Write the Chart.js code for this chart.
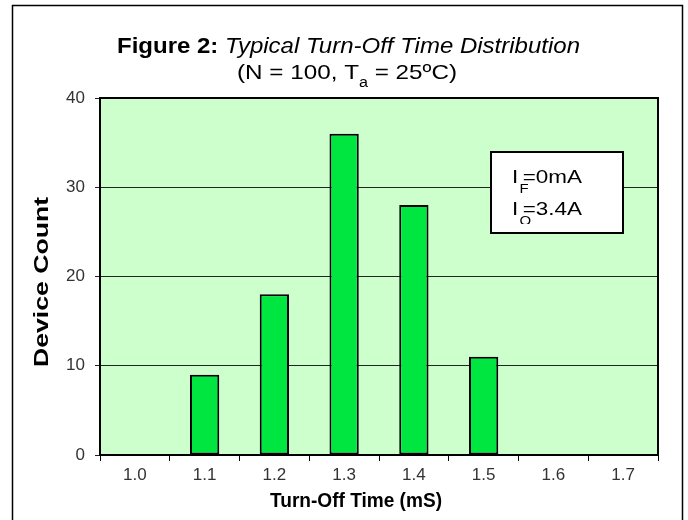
<!DOCTYPE html>
<html>
<head>
<meta charset="utf-8">
<script src="https://cdn.jsdelivr.net/npm/chart.js@4"></script>
<style>
    html, body { margin: 0; padding: 0; background: #fff; }
    #wrap { width: 688px; height: 520px; }
</style>
</head>
<body>
<div id="wrap"><canvas id="turnOffChart" width="688" height="520"></canvas></div>
<script>
// Turn-off time bins (mS) and device counts per bin
const timeBins = ['1.0', '1.1', '1.2', '1.3', '1.4', '1.5', '1.6', '1.7'];
const deviceCounts = [0, 9, 18, 36, 28, 11, 0, 0];
const countTicks = [0, 10, 20, 30, 40];

const FONT = '"Liberation Sans", Arial, sans-serif';
const TICK_FONT = '"Liberation Sans Narrow", "Arial Narrow", "Liberation Sans", sans-serif';

// Draw a run of text parts (font, offset) squeezed/stretched to a given width.
// align: 'center' -> x is the centre, 'left' -> x is the left edge
function drawRun(ctx, parts, x, y, width, align) {
    let total = 0;
    parts.forEach(p => {
        ctx.font = p.font;
        p.w = ctx.measureText(p.text).width;
        total += p.advance === false ? 0 : p.w;
    });
    const s = width / total;
    ctx.save();
    ctx.translate(align === 'left' ? x : x - width / 2, y);
    ctx.scale(s, 1);
    let cx = 0;
    parts.forEach(p => {
        ctx.font = p.font;
        ctx.fillText(p.text, cx + (p.dx || 0), p.dy || 0);
        if (p.advance !== false) cx += p.w;
    });
    ctx.restore();
}

// Frame, plot background, titles and the note box
const decorPlugin = {
    id: 'decor',
    beforeDraw(chart) {
        const ctx = chart.ctx;
        const a = chart.chartArea;
        ctx.save();
        ctx.fillStyle = '#ffffff';
        ctx.fillRect(0, 0, chart.width, chart.height);
        ctx.fillStyle = '#ccffcc';
        ctx.fillRect(a.left, a.top, a.right - a.left, a.bottom - a.top);

        // outer frame (bottom edge is off the picture)
        ctx.strokeStyle = '#000';
        ctx.lineWidth = 1.5;
        ctx.beginPath();
        ctx.moveTo(12.5, 530);
        ctx.lineTo(12.5, 5.5);
        ctx.lineTo(682.5, 5.5);
        ctx.lineTo(682.5, 530);
        ctx.stroke();

        ctx.fillStyle = '#000';
        ctx.textBaseline = 'alphabetic';
        ctx.textAlign = 'left';

        // chart title
        drawRun(ctx, [
            { text: 'Figure 2: ', font: 'bold 22px ' + FONT },
            { text: 'Typical Turn-Off Time Distribution', font: 'italic 22px ' + FONT }
        ], 348.5, 53, 463, 'center');
        drawRun(ctx, [
            { text: '(N = 100, T', font: '21px ' + FONT },
            { text: 'a', font: '14px ' + FONT, dy: 8 },
            { text: ' = 25\u00baC)', font: '21px ' + FONT }
        ], 347, 79, 220, 'center');

        // axis titles
        drawRun(ctx, [{ text: 'Turn-Off Time (mS)', font: 'bold 20px ' + FONT }],
            356, 507, 172, 'center');
        ctx.save();
        ctx.translate(48, 282);
        ctx.rotate(-Math.PI / 2);
        drawRun(ctx, [{ text: 'Device Count', font: 'bold 21px ' + FONT }],
            0, 0, 170, 'center');
        ctx.restore();
        ctx.restore();
    },
    afterDraw(chart) {
        const ctx = chart.ctx;
        const a = chart.chartArea;
        ctx.save();
        ctx.strokeStyle = '#000';
        ctx.lineWidth = 2;
        ctx.strokeRect(a.left, a.top, a.right - a.left, a.bottom - a.top);

        // note box
        const bx = 491, by = 152, bw = 132, bh = 81;
        ctx.fillStyle = '#fff';
        ctx.fillRect(bx, by, bw, bh);
        ctx.save();
        ctx.beginPath();
        ctx.rect(bx, by, bw, 224 - by);
        ctx.clip();
        ctx.fillStyle = '#000';
        ctx.textBaseline = 'alphabetic';
        ctx.textAlign = 'left';
        drawRun(ctx, [
            { text: 'I', font: '18px ' + FONT },
            { text: 'F', font: '12px ' + FONT, dy: 10, dx: 1, advance: false },
            { text: '\u2009=0mA', font: '18px ' + FONT }
        ], 512, 183, 70, 'left');
        drawRun(ctx, [
            { text: 'I', font: '18px ' + FONT },
            { text: 'O', font: '12px ' + FONT, dy: 10, dx: 1, advance: false },
            { text: '\u2009=3.4A', font: '18px ' + FONT }
        ], 512, 215, 70, 'left');
        ctx.restore();
        ctx.strokeStyle = '#000';
        ctx.lineWidth = 2;
        ctx.strokeRect(bx, by, bw, bh);
        ctx.restore();
    }
};

const ctx = document.getElementById('turnOffChart').getContext('2d');
const turnOffChart = new Chart(ctx, {
    type: 'bar',
    data: {
        labels: timeBins,
        datasets: [{
            label: 'Device Count',
            data: deviceCounts,
            backgroundColor: '#00e640',
            borderColor: '#000000',
            borderWidth: 2,
            borderSkipped: false,
            barPercentage: 0.42,
            categoryPercentage: 1.0
        }]
    },
    options: {
        responsive: false,
        animation: false,
        devicePixelRatio: 1,
        layout: {
            padding: { top: 98, right: 30, left: 0, bottom: 0 }
        },
        plugins: {
            legend: { display: false },
            tooltip: { enabled: false }
        },
        scales: {
            x: {
                grid: {
                    offset: true,
                    drawOnChartArea: false,
                    drawTicks: true,
                    tickLength: 6,
                    color: '#000',
                    lineWidth: 1
                },
                border: { display: false },
                ticks: {
                    color: '#333',
                    padding: 4,
                    font: { family: TICK_FONT, size: 17 },
                    maxRotation: 0
                },
                afterFit(scale) { scale.height = 65; }
            },
            y: {
                min: 0,
                max: 40,
                afterBuildTicks(scale) {
                    scale.ticks = countTicks.map(v => ({ value: v }));
                },
                grid: {
                    color: '#222',
                    lineWidth: 1,
                    tickLength: 5
                },
                border: { display: false },
                ticks: {
                    color: '#333',
                    padding: 10,
                    font: { family: TICK_FONT, size: 17 }
                },
                afterFit(scale) { scale.width = 100; }
            }
        }
    },
    plugins: [decorPlugin]
});
</script>
</body>
</html>
